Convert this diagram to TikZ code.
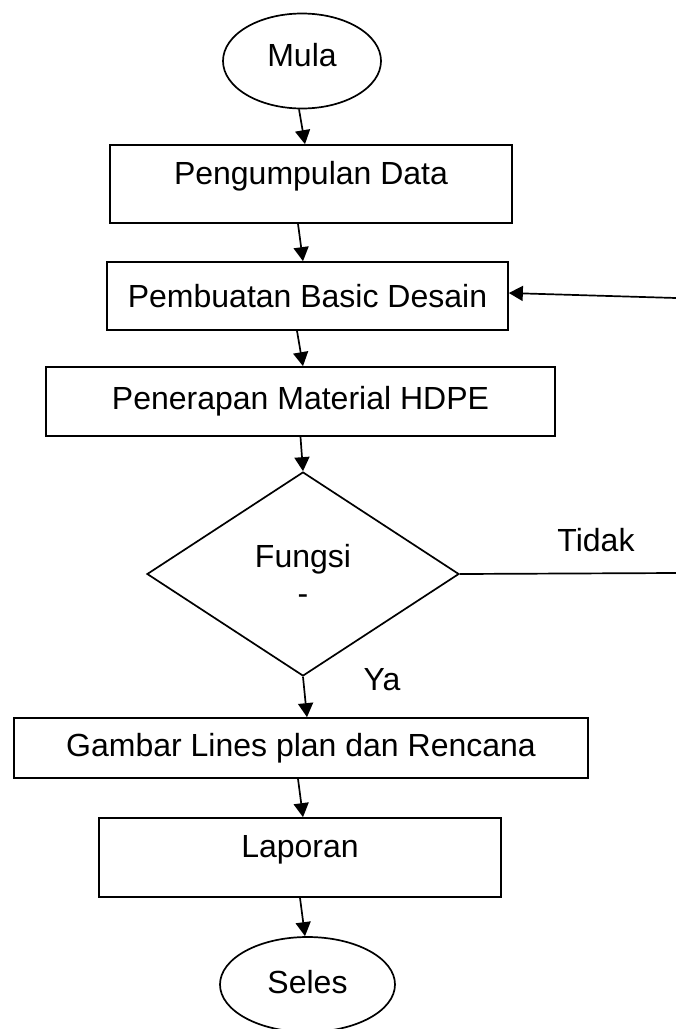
\documentclass[tikz,border=0pt]{standalone}
\usepackage{fontspec}
\setmainfont{Liberation Sans}
\usetikzlibrary{shapes.geometric,arrows.meta}

\begin{document}
\begin{tikzpicture}[x=1pt, y=-1pt, line width=1.7pt,
  font=\fontsize{32}{37}\selectfont,
  proc/.style = {draw, rectangle, inner sep=0pt},
  term/.style = {draw, ellipse, inner sep=0pt},
  dec/.style = {draw, diamond, inner sep=0pt, align=center},
  arr/.style = {-{Triangle[length=14pt,width=15pt]}}]
\useasboundingbox (0,0) rectangle (676,1029);
\node[term, minimum width=158, minimum height=95, text depth=12pt] (mula) at (302,61) {Mula};
\node[proc, minimum width=402, minimum height=78, text depth=22pt] (data) at (311,184) {Pengumpulan Data};
\node[proc, minimum width=401, minimum height=68] (basic) at (307.5,296) {Pembuatan Basic Desain};
\node[proc, minimum width=509, minimum height=69] (hdpe) at (300.5,401.5) {Penerapan Material HDPE};
\node[dec, minimum width=312, minimum height=204] (fungsi) at (303,574) {Fungsi\\-};
\node[proc, minimum width=574, minimum height=60] (lines) at (301,748) {Gambar Lines plan dan Rencana};
\node[proc, minimum width=402, minimum height=79, text depth=23pt] (lapor) at (300,857.5) {Laporan};
\node[term, minimum width=175, minimum height=95, text depth=6pt] (seles) at (307.5,984.5) {Seles};
\node (tidak) at (596,540) {Tidak};
\node (ya) at (382,680) {Ya};
\coordinate (balik) at (676,298);
\coordinate (kanan) at (676,573);
\draw[arr] ([xshift=-3pt]mula.south) -- ([xshift=-6pt]data.north);
\draw[arr] ([xshift=-13pt]data.south) -- ([xshift=-4.5pt]basic.north);
\draw[arr] ([xshift=-10.5pt]basic.south) -- ([xshift=2.5pt]hdpe.north);
\draw[arr] (hdpe.south) -- (fungsi.north);
\draw[arr] (fungsi.south) -- ([xshift=6pt]lines.north);
\draw[arr] ([xshift=-3pt]lines.south) -- ([xshift=3pt]lapor.north);
\draw[arr] (lapor.south) -- ([xshift=-2.5pt]seles.north);
\draw (fungsi.east) -- (kanan);
\draw[arr] (balik) -- ([yshift=3pt]basic.east);
\end{tikzpicture}
\end{document}
